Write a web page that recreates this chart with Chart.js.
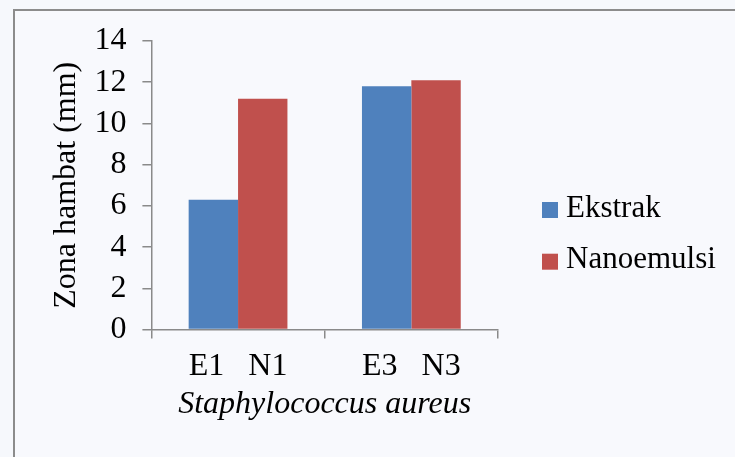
<!DOCTYPE html>
<html>
<head>
<meta charset="utf-8">
<script src="https://cdn.jsdelivr.net/npm/chart.js@4"></script>
<style>
  html, body { margin: 0; padding: 0; background: #f6f8fc; overflow: hidden; }
  #wrap { position: relative; width: 735px; height: 457px; }
  #frame { position: absolute; left: 13px; top: 9px; width: 800px; height: 500px;
           border: 2px solid #8c8c8c; background: #f8f9fd; }
  canvas { position: absolute; left: 0; top: 0; }
</style>
</head>
<body>
<div id="wrap">
  <div id="frame"></div>
  <canvas id="grafik" width="735" height="457"></canvas>
</div>
<script>
// data dari gambar
const kelompok = ['E1   N1', 'E3   N3'];
const ekstrak = [6.3, 11.8];
const nanoemulsi = [11.2, 12.1];
const yMaks = 14;
const yLangkah = 2;

const font = 'Liberation Serif';
const abu = '#8a8a8a';

// legenda di kanan, digambar dari dataset chart
const legendaKanan = {
    id: 'legendaKanan',
    afterDraw(chart) {
        const c = chart.ctx;
        const area = chart.chartArea;
        const x = area.right + 44;
        let y = 210;
        c.save();
        c.font = '31px "' + font + '"';
        c.textAlign = 'left';
        c.textBaseline = 'middle';
        chart.data.datasets.forEach(ds => {
            c.fillStyle = ds.backgroundColor;
            c.fillRect(x, y - 8, 16, 16);
            c.fillStyle = '#000';
            c.fillText(ds.label, x + 24, y - 1.5);
            y += 51.7;
        });
        c.restore();
    }
};

document.addEventListener('DOMContentLoaded', () => {
    const ctx = document.getElementById('grafik').getContext('2d');
    new Chart(ctx, {
        type: 'bar',
        data: {
            labels: kelompok,
            datasets: [
                { label: 'Ekstrak', data: ekstrak, backgroundColor: '#4f81bd', borderWidth: 0 },
                { label: 'Nanoemulsi', data: nanoemulsi, backgroundColor: '#c0504d', borderWidth: 0 }
            ]
        },
        options: {
            responsive: false,
            animation: false,
            layout: { padding: { left: 43, top: 41, right: 237, bottom: 21 } },
            datasets: { bar: { categoryPercentage: 0.57, barPercentage: 1 } },
            plugins: {
                tooltip: { enabled: false },
                legend: { display: false }
            },
            scales: {
                x: {
                    grid: { drawOnChartArea: false, tickLength: 9, color: abu, lineWidth: 1.5 },
                    border: { color: abu, width: 1.5 },
                    ticks: { color: '#000', font: { family: font, size: 32, lineHeight: 1 }, padding: 12, maxRotation: 0, autoSkip: false },
                    title: {
                        display: true,
                        text: 'Staphylococcus aureus',
                        color: '#000',
                        font: { family: font, size: 32, style: 'italic' },
                        padding: { top: -9, bottom: 12 }
                    }
                },
                y: {
                    min: 0,
                    max: yMaks,
                    grid: { drawOnChartArea: false, tickLength: 9, color: abu, lineWidth: 1.5 },
                    border: { color: abu, width: 1.5 },
                    ticks: { stepSize: yLangkah, autoSkip: false, color: '#000', font: { family: font, size: 32 }, padding: 16 },
                    title: {
                        display: true,
                        text: 'Zona hambat (mm)',
                        color: '#000',
                        font: { family: font, size: 32 },
                        padding: { top: 4, bottom: -7 }
                    }
                }
            }
        },
        plugins: [legendaKanan]
    });
});
</script>
</body>
</html>
